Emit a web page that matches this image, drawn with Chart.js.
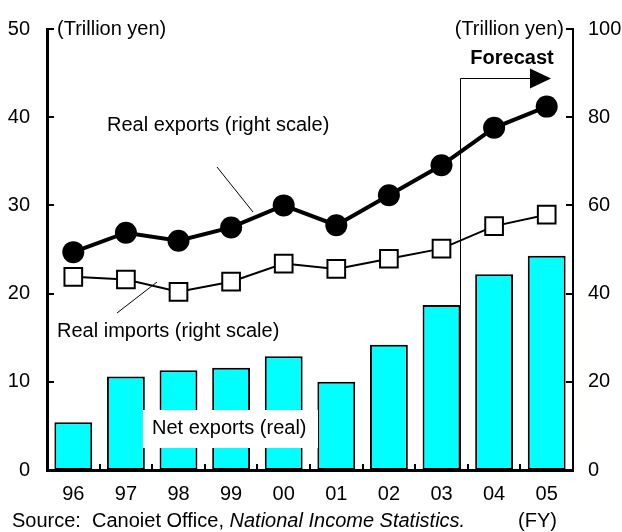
<!DOCTYPE html>
<html>
<head>
<meta charset="utf-8">
<script src="https://cdn.jsdelivr.net/npm/chart.js@4.4.0/dist/chart.umd.min.js"></script>
<style>
  html, body { margin: 0; padding: 0; background: #fff; }
</style>
</head>
<body>
<canvas id="chart" width="622" height="532"></canvas>
<script>
// fiscal years, trillion yen
const years = ['96', '97', '98', '99', '00', '01', '02', '03', '04', '05'];
const netExports = [5.4, 10.6, 11.3, 11.6, 12.9, 10.0, 14.2, 18.7, 22.2, 24.3];   // left scale
const realExports = [49.4, 53.8, 52.0, 55.0, 60.0, 55.5, 62.3, 69.1, 77.6, 82.4]; // right scale
const realImports = [43.8, 43.2, 40.4, 42.7, 46.8, 45.6, 47.9, 50.2, 55.3, 57.9]; // right scale
const leftTicks = [0, 10, 20, 30, 40, 50];
const rightTicks = [0, 20, 40, 60, 80, 100];

const FONT = '"Liberation Sans", Arial, sans-serif';

// labels, leader lines, forecast arrow, inward tick marks, source line
const extras = {
  id: 'extras',
  beforeDatasetsDraw(chart) {
    const { ctx, chartArea, scales } = chart;
    // bracket starts on the right edge of the FY03 bar
    const fx = Math.round(scales.x.getPixelForValue(7) + 18.5) + 0.5;
    const fy = Math.round(scales.yR.getPixelForValue(89)) + 0.5;
    ctx.save();
    ctx.strokeStyle = '#000';
    ctx.lineWidth = 1;
    ctx.beginPath();
    ctx.moveTo(fx, chartArea.bottom);
    ctx.lineTo(fx, fy);
    ctx.lineTo(chartArea.right - 42, fy);
    ctx.stroke();
    ctx.fillStyle = '#000';
    ctx.beginPath();
    ctx.moveTo(chartArea.right - 43, fy - 10);
    ctx.lineTo(chartArea.right - 22, fy);
    ctx.lineTo(chartArea.right - 43, fy + 10);
    ctx.closePath();
    ctx.fill();
    ctx.font = 'bold 20px ' + FONT;
    ctx.textAlign = 'center';
    ctx.textBaseline = 'middle';
    ctx.fillText('Forecast', chartArea.right - 61, fy - 20);
    ctx.restore();
  },
  afterDraw(chart) {
    const { ctx, chartArea, scales } = chart;
    const { left, right, top, bottom } = chartArea;
    ctx.save();
    ctx.strokeStyle = '#000';
    ctx.fillStyle = '#000';

    // tick marks pointing into the plot
    ctx.lineWidth = 2;
    ctx.beginPath();
    leftTicks.forEach(v => {
      const y = Math.round(scales.y.getPixelForValue(v));
      ctx.moveTo(left, y); ctx.lineTo(left + 7, y);
    });
    rightTicks.forEach(v => {
      const y = Math.round(scales.yR.getPixelForValue(v));
      ctx.moveTo(right, y); ctx.lineTo(right - 7, y);
    });
    const step = (right - left) / years.length;
    for (let i = 1; i < years.length; i++) {
      const x = Math.round(left + i * step);
      ctx.moveTo(x, bottom); ctx.lineTo(x, bottom - 6);
    }
    ctx.stroke();

    // leader lines
    ctx.lineWidth = 1;
    ctx.beginPath();
    ctx.moveTo(217, 167); ctx.lineTo(253, 212);
    ctx.moveTo(117, 313); ctx.lineTo(157, 282);
    ctx.stroke();

    ctx.font = '20px ' + FONT;
    ctx.textBaseline = 'middle';
    ctx.textAlign = 'left';
    ctx.fillText('(Trillion yen)', left + 10, top);
    ctx.textAlign = 'right';
    ctx.fillText('(Trillion yen)', right - 9, top);
    ctx.textAlign = 'left';
    ctx.fillText('Real exports (right scale)', 107, 125);
    ctx.fillText('Real imports (right scale)', 57, 331);

    // boxed bar label
    ctx.fillStyle = '#fff';
    ctx.fillRect(143, 410, 175, 38);
    ctx.fillStyle = '#000';
    ctx.fillText('Net exports (real)', 152, 428);

    // source line
    const sy = 521;
    const lead = 'Source:  Canoiet Office, ';
    ctx.fillText(lead, 12, sy);
    const w = ctx.measureText(lead).width;
    ctx.font = 'italic 20px ' + FONT;
    ctx.fillText('National Income Statistics.', 12 + w, sy);
    ctx.font = '20px ' + FONT;
    ctx.textAlign = 'right';
    ctx.fillText('(FY)', 557, sy);
    ctx.restore();
  }
};

new Chart(document.getElementById('chart'), {
  data: {
    labels: years,
    datasets: [
      {
        type: 'line',
        label: 'Real exports (right scale)',
        data: realExports,
        yAxisID: 'yR',
        borderColor: '#000',
        borderWidth: 4,
        pointRadius: 11,
        pointBackgroundColor: '#000',
        pointBorderWidth: 0,
        order: 1
      },
      {
        type: 'line',
        label: 'Real imports (right scale)',
        data: realImports,
        yAxisID: 'yR',
        borderColor: '#000',
        borderWidth: 2,
        pointStyle: 'rect',
        pointRadius: 12.5,
        pointBackgroundColor: '#fff',
        pointBorderColor: '#000',
        pointBorderWidth: 2,
        order: 2
      },
      {
        type: 'bar',
        label: 'Net exports (real)',
        data: netExports,
        yAxisID: 'y',
        backgroundColor: '#00ffff',
        borderColor: '#000',
        borderWidth: 2,
        borderSkipped: false,
        categoryPercentage: 1,
        barPercentage: 0.72,
        order: 3
      }
    ]
  },
  options: {
    responsive: false,
    animation: false,
    layout: { padding: { top: 23, left: 0, right: 0, bottom: 0 } },
    plugins: { legend: { display: false }, tooltip: { enabled: false } },
    scales: {
      x: {
        grid: { display: false, drawTicks: false },
        border: { display: true, color: '#000', width: 3 },
        ticks: { color: '#000', font: { family: FONT, size: 20 }, padding: 12, maxRotation: 0 },
        afterFit: s => { s.height = 62; }
      },
      y: {
        position: 'left',
        min: 0, max: 50,
        grid: { display: false, drawTicks: false },
        border: { display: true, color: '#000', width: 3 },
        ticks: { stepSize: 10, color: '#000', font: { family: FONT, size: 20 }, padding: 17 },
        afterFit: s => { s.width = 47; }
      },
      yR: {
        position: 'right',
        min: 0, max: 100,
        grid: { display: false, drawTicks: false },
        border: { display: true, color: '#000', width: 2 },
        ticks: { stepSize: 20, color: '#000', font: { family: FONT, size: 20 }, padding: 15 },
        afterFit: s => { s.width = 49; }
      }
    }
  },
  plugins: [extras]
});
</script>
</body>
</html>
